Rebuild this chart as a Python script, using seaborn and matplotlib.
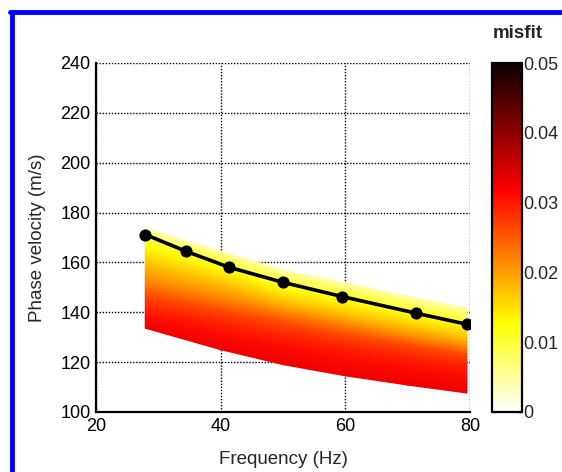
import numpy as np
import pandas as pd
import matplotlib
matplotlib.use("Agg")
import matplotlib.pyplot as plt
import seaborn as sns
from matplotlib.lines import Line2D

# ---- data ----
freq_obs = [27.9, 34.5, 41.3, 50.0, 59.5, 71.4, 79.5]
vel_obs = [171.2, 164.4, 158.1, 152.0, 146.3, 139.6, 135.2]

band_freq = [27.9, 40, 50, 60, 70, 79.5]
misfit_levels = [0.004, 0.008, 0.012, 0.017, 0.022, 0.026, 0.029, 0.031, 0.033]
curve_0 = [173.7, 164.5, 157.0, 151.8, 146.5, 141.7]
curve_1 = [171.0, 162.0, 154.0, 149.0, 143.5, 139.0]
curve_2 = [167.0, 158.0, 150.0, 145.0, 139.5, 135.0]
curve_3 = [160.0, 152.0, 144.5, 139.5, 134.5, 130.0]
curve_4 = [152.0, 145.5, 140.0, 135.0, 130.0, 126.0]
curve_5 = [147.0, 141.0, 136.0, 131.0, 127.0, 123.0]
curve_6 = [142.0, 136.0, 131.0, 126.5, 122.5, 119.0]
curve_7 = [138.0, 131.0, 126.0, 121.0, 117.5, 114.0]
curve_8 = [133.6, 125.0, 119.0, 114.5, 110.8, 107.6]

x_ticks = [20, 40, 60, 80]
y_ticks = [100, 120, 140, 160, 180, 200, 220, 240]
cbar_ticks = [0, 0.01, 0.02, 0.03, 0.04, 0.05]
cbar_labels = ["0", "0.01", "0.02", "0.03", "0.04", "0.05"]

# ---- style ----
sns.set_style("white")
plt.rcParams["font.family"] = ["Liberation Sans", "DejaVu Sans"]

W, H = 562, 472
fig = plt.figure(figsize=(W / 100, H / 100), dpi=100)
fig.patch.set_facecolor("white")

def px_rect(x0, y0, x1, y1):
    return [x0 / W, 1 - y1 / H, (x1 - x0) / W, (y1 - y0) / H]

ax = fig.add_axes(px_rect(96, 63, 470, 412))
cax = fig.add_axes(px_rect(492, 63, 522, 412))

curves = [curve_0, curve_1, curve_2, curve_3, curve_4,
          curve_5, curve_6, curve_7, curve_8]
Y = np.array(curves)
X = np.tile(np.array(band_freq), (len(curves), 1))
C = np.tile(np.array(misfit_levels)[:, None], (1, len(band_freq)))

cmap = plt.get_cmap("hot_r")
mesh = ax.pcolormesh(X, Y, C, shading="gouraud", cmap=cmap,
                     vmin=0, vmax=0.05, zorder=1)

df = pd.DataFrame({"Frequency": freq_obs, "Velocity": vel_obs})
sns.lineplot(data=df, x="Frequency", y="Velocity", color="black",
             marker="o", markersize=8, markeredgecolor="black",
             linewidth=2.6, ax=ax, zorder=3)

ax.set_xlim(20, 80)
ax.set_ylim(100, 240)
ax.set_xticks(x_ticks)
ax.set_yticks(y_ticks)
ax.set_axisbelow(True)
ax.grid(True, linestyle=(0, (1, 1.2)), color="black", linewidth=1.0)
for s in ["top", "right"]:
    ax.spines[s].set_visible(False)
for s in ["left", "bottom"]:
    ax.spines[s].set_color("black")
    ax.spines[s].set_linewidth(1.6)
ax.tick_params(direction="in", length=4, width=1, labelsize=13,
               colors="black", pad=4)
ax.set_xlabel("Frequency (Hz)", fontsize=13.5, labelpad=12)
ax.set_ylabel("Phase velocity (m/s)", fontsize=13.5, labelpad=10)

cb = fig.colorbar(mesh, cax=cax, ticks=cbar_ticks)
cb.ax.set_yticklabels(cbar_labels)
cb.ax.tick_params(direction="in", length=3, width=1, labelsize=13,
                  pad=1, left=True, right=True)
cb.outline.set_linewidth(1.6)
cb.outline.set_edgecolor("black")

fig.text(518 / W, 1 - 34 / H, "misfit", fontsize=13.5, fontweight="bold",
         ha="center", va="center")

# blue frame
fig.add_artist(Line2D([12 / W, 12 / W], [0, 1 - 12 / H], color="#0000ff",
                      linewidth=3.5, transform=fig.transFigure))
fig.add_artist(Line2D([12 / W - 0.003, 1], [1 - 12 / H, 1 - 12 / H],
                      color="#0000ff", linewidth=3.5,
                      transform=fig.transFigure))

fig.savefig("out.png", dpi=100)
